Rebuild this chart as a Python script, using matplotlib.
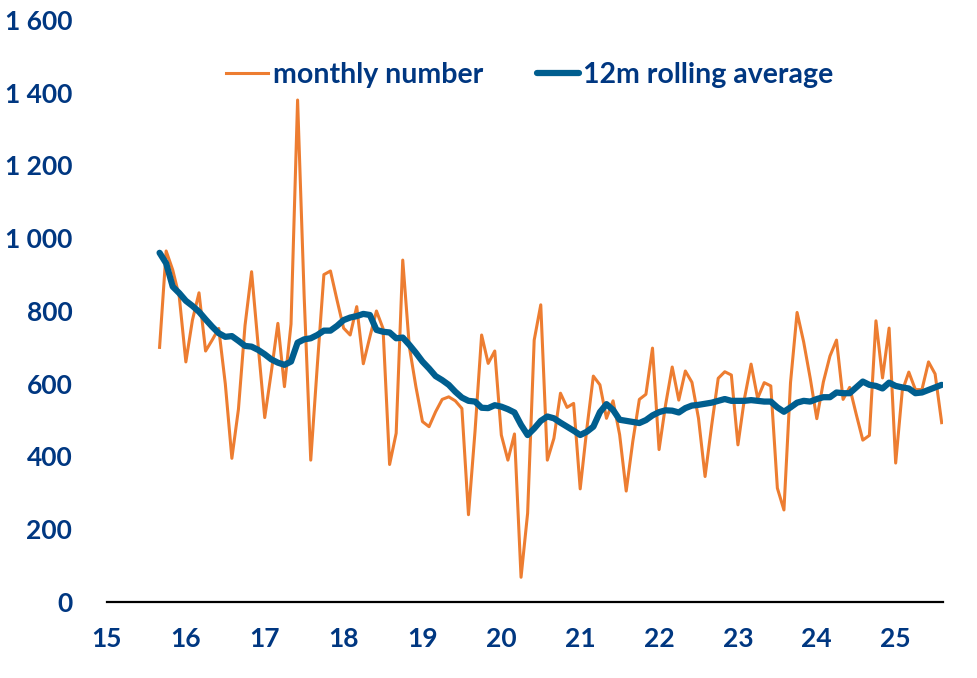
import numpy as np
import pandas as pd
import matplotlib
matplotlib.use("Agg")
import matplotlib.pyplot as plt
from matplotlib.ticker import FuncFormatter, MultipleLocator

# Data: monthly values Sep 2015 - Aug 2025
months = pd.date_range("2015-09-01", "2025-08-01", freq="MS")

monthly = [
    700, 965, 913, 839, 660, 775, 850, 690, 720, 752, 600, 395,
    530, 760, 908, 705, 507, 632, 766, 592, 764, 1380, 840, 390,
    650, 900, 910, 830, 753, 734, 812, 655, 729, 800, 752, 378,
    464, 940, 702, 592, 496, 482, 523, 557, 564, 553, 532, 240,
    470, 734, 656, 690, 459, 390, 462, 68, 244, 720, 817, 390,
    450, 574, 535, 546, 311, 475, 621, 597, 505, 553, 460, 305,
    441, 557, 571, 698, 419, 543, 646, 555, 635, 604, 505, 345,
    485, 615, 633, 624, 432, 560, 654, 560, 603, 594, 313, 253,
    603, 796, 715, 615, 504, 605, 676, 720, 557, 590, 516, 445,
    458, 773, 616, 753, 382, 580, 632, 584, 584, 660, 627, 493,
]

rolling = [
    960, 931, 867, 849, 828, 814, 798, 777, 757, 739, 729, 731,
    718, 704, 702, 693, 681, 667, 658, 652, 661, 713, 722, 725,
    734, 746, 746, 759, 775, 782, 786, 792, 789, 748, 743, 741,
    725, 727, 707, 685, 661, 642, 621, 610, 597, 578, 562, 553,
    551, 534, 533, 541, 537, 530, 521, 487, 459, 477, 498, 510,
    505, 493, 482, 471, 459, 468, 482, 522, 544, 528, 501, 498,
    495, 492, 500, 513, 522, 527, 526, 521, 533, 540, 542, 545,
    548, 553, 558, 553, 553, 553, 555, 553, 551, 551, 535, 523,
    535, 548, 553, 551, 558, 563, 563, 576, 574, 574, 590, 606,
    597, 594, 587, 603, 594, 590, 587, 574, 576, 583, 590, 597,
]

x = months.year - 2000 + (months.month - 1) / 12

navy = "#003781"
orange = "#ED7D31"
blue = "#005E8F"

plt.rcParams["font.family"] = ["Lato", "DejaVu Sans"]

fig = plt.figure(figsize=(9.78, 6.78), dpi=100)
ax = fig.add_axes([0.1094, 0.1121, 0.8548, 0.8584])

ax.plot(x, monthly, color=orange, lw=2.2, label="monthly number")
ax.plot(x, rolling, color=blue, lw=4.5, label="12m rolling average",
        solid_capstyle="round")

ax.set_xlim(15, 25.6)
ax.set_ylim(0, 1600)
ax.yaxis.set_major_locator(MultipleLocator(200))
ax.xaxis.set_major_locator(MultipleLocator(1))
ax.yaxis.set_major_formatter(FuncFormatter(lambda v, p: f"{int(v):,}".replace(",", " ")))
ax.xaxis.set_major_formatter(FuncFormatter(lambda v, p: f"{int(round(v))}"))

for s in ["top", "right", "left"]:
    ax.spines[s].set_visible(False)
ax.spines["bottom"].set_linewidth(1.6)
ax.spines["bottom"].set_color("black")

ax.tick_params(axis="both", length=0, labelsize=19, labelcolor=navy)
ax.tick_params(axis="y", pad=25)
ax.tick_params(axis="x", pad=18)
for lab in ax.get_xticklabels() + ax.get_yticklabels():
    lab.set_fontweight("bold")

leg = ax.legend(loc="center", bbox_to_anchor=(0.506, 0.9055), ncol=2, frameon=False,
                handlelength=1.48, handletextpad=0.15, columnspacing=1.9,
                prop={"size": 20.5, "weight": "bold"})
for t in leg.get_texts():
    t.set_color(navy)

fig.savefig("out.png", dpi=100)
